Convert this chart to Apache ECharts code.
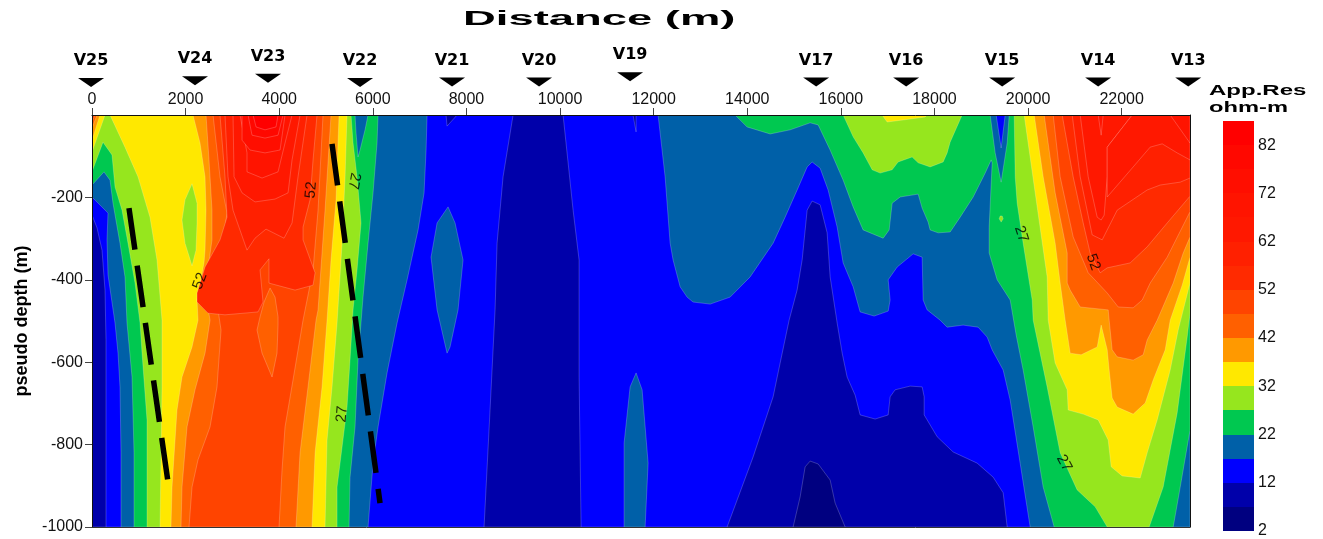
<!DOCTYPE html>
<html>
<head>
<meta charset="utf-8">
<style>html,body{margin:0;padding:0;background:#fff}#c{width:1323px;height:539px}</style>
<script src="https://cdn.jsdelivr.net/npm/echarts@6/dist/echarts.min.js"></script>
</head>
<body>
<div id="c"></div>
<script>
// ---- Axis values
const distTicks = [0,2000,4000,6000,8000,10000,12000,14000,16000,18000,20000,22000];
const distMax = 23460;
const legendLevels = [2,7,12,17,22,27,32,37,42,47,52,57,62,67,72,77,82];
const legendColors = ['#000080','#0000AA','#0000FF','#0060A8','#00C850','#96E61E','#FFE800','#FF9900','#FF6000','#FF4400','#FF2A00','#FF2000','#FF1800','#FF1400','#FF0E00','#FF0800','#FF0000'];

// ---- Stations: name, distance (m), marker height above surface
const stationNames = ['V25','V24','V23','V22','V21','V20','V19','V17','V16','V15','V14','V13'];
const stationDist  = [-20,2201,3761,5727,7693,9552,11497,15472,17395,19447,21498,23422];
const stationElev  = [79,83,89,79,80,80,93,80,80,80,80,80];

// ---- Fault traces [distance, depth]
const fault1 = [[790,-226],[1624,-891]];
const fault2 = [[5128,-70],[6154,-942]];

// ---- Contour labels [distance, depth, value, angle]
const contourLabels = [[4680,-182,52,85],[5599,-160,27,-100],[2308,-403,52,70],[5343,-726,27,85],[19853,-289,27,-72],[21391,-357,52,-70],[20772,-845,27,-62]];

// ---- Contour polygons, [distance, depth]
const whole = [[0,0],[23460,0],[23460,-1000],[0,-1000]];
const low7Left = [[0,-243],[107,-274],[214,-328],[278,-425],[299,-546],[299,-1000],[0,-1000]];
const low7Center = [[8997,0],[8783,-150],[8655,-311],[8612,-473],[8505,-716],[8377,-1000],[10450,-1000],[10407,-636],[10407,-352],[10279,-231],[10065,0]];
const low7Spot = [[7565,0],[7800,0],[7586,-27]];
const low7Sliver = [[11560,0],[11625,0],[11625,-41]];
const low7Right = [[13570,-1000],[14126,-830],[14553,-684],[14703,-602],[14895,-498],[15066,-425],[15173,-352],[15280,-231],[15386,-209],[15557,-218],[15707,-286],[15771,-393],[15921,-505],[16028,-578],[16134,-636],[16305,-680],[16412,-728],[16733,-738],[17011,-728],[17053,-684],[17160,-667],[17481,-658],[17737,-660],[17780,-684],[17780,-728],[18058,-781],[18400,-818],[18912,-845],[19254,-879],[19468,-917],[19554,-1000]];
const low2Deep = [[14980,-1000],[15130,-927],[15237,-854],[15344,-840],[15515,-847],[15771,-886],[15878,-942],[16092,-1000]];

const ge17Left = [[0,0],[7159,0],[7138,-85],[7095,-189],[6967,-279],[6732,-400],[6518,-505],[6304,-626],[6112,-757],[6005,-845],[5898,-1000],[620,-1000],[620,-820],[598,-660],[556,-578],[492,-505],[342,-388],[321,-303],[342,-238],[0,-199]];
const ge22Left = [[0,0],[6112,0],[6090,-68],[6005,-189],[5898,-311],[5791,-442],[5684,-595],[5620,-757],[5513,-879],[5492,-1000],[898,-1000],[898,-820],[855,-636],[748,-505],[705,-393],[598,-311],[449,-214],[385,-158],[256,-138],[0,-170]];
const notchLeft = [[5620,0],[5642,-44],[5684,-102],[5727,-85],[5834,-36],[5898,0]];
const ge27Left = [[0,0],[5535,0],[5578,-68],[5663,-150],[5749,-262],[5663,-376],[5578,-473],[5513,-595],[5449,-709],[5343,-806],[5236,-903],[5236,-1000],[1175,-1000],[1175,-740],[1069,-578],[1026,-505],[919,-408],[769,-311],[641,-231],[492,-175],[427,-97],[235,-66],[0,-138]];
const ge32Corner = [[0,0],[278,0],[0,-90]];
const ge32Left = [[385,0],[5449,0],[5407,-150],[5343,-311],[5236,-505],[5129,-660],[5022,-789],[4979,-1000],[1453,-1000],[1496,-660],[1496,-498],[1389,-352],[1239,-248],[983,-150],[705,-78]];
const lens27 = [[2137,-167],[2244,-214],[2244,-262],[2222,-328],[2137,-366],[1987,-311],[1923,-255],[1987,-206]];
const ge37Corner = [[0,0],[171,0],[0,-61]];
const ge42Corner = [[0,0],[107,0],[0,-32]];
const ge47Corner = [[0,0],[64,0],[0,-17]];
const ge37Left = [[2158,0],[5278,0],[5214,-206],[5107,-352],[5022,-498],[4915,-660],[4766,-820],[4701,-1000],[1688,-1000],[1710,-903],[1816,-716],[1923,-636],[2137,-563],[2265,-498],[2244,-449],[2393,-359],[2415,-328],[2436,-231],[2415,-150],[2308,-68]];
const ge42Left = [[2436,0],[5107,0],[4979,-231],[4830,-473],[4787,-498],[4616,-660],[4445,-820],[4359,-1000],[1902,-1000],[1923,-903],[2030,-757],[2201,-667],[2415,-578],[2522,-498],[2415,-425],[2564,-303],[2564,-231],[2500,-109]];
const ge47Left = [[2586,0],[4936,0],[4830,-231],[4723,-376],[4509,-498],[4295,-643],[4124,-757],[4060,-862],[3996,-1000],[2073,-1000],[2137,-903],[2265,-837],[2522,-757],[2671,-660],[2757,-522],[2629,-425],[2842,-272],[2885,-238],[2735,-150]];
const patch42 = [[3804,-420],[3911,-442],[3975,-490],[3975,-510],[3953,-578],[3847,-636],[3633,-578],[3526,-522],[3590,-490],[3676,-454]];
const ge52Left = [[2735,0],[4808,0],[4723,-109],[4659,-206],[4509,-272],[4509,-303],[4766,-383],[4723,-413],[4338,-425],[3782,-408],[3782,-349],[3590,-376],[3654,-454],[3547,-478],[2842,-485],[2479,-481],[2244,-454],[2244,-432],[2415,-369],[2735,-303],[2885,-248],[2842,-150]];
const ge57Left = [[2842,0],[4595,0],[4402,-150],[4274,-262],[4103,-299],[3718,-277],[3483,-299],[3312,-328],[3013,-231],[2906,-150]];
const ge62Left = [[3013,0],[4445,0],[4274,-109],[4189,-189],[3911,-204],[3483,-211],[3206,-189],[3035,-150]];
const ge67Left = [[3163,0],[4274,0],[4124,-68],[3975,-138],[3633,-153],[3312,-138],[3312,-92]];
const ge72Left = [[3206,0],[4124,0],[4018,-85],[3697,-92],[3376,-85],[3206,-61]];
const ge77Left = [[3334,0],[4082,0],[3975,-49],[3697,-56],[3419,-49]];
const ge82Left = [[3441,0],[3975,0],[3932,-29],[3697,-36],[3505,-29]];

const islandA = [[7608,-223],[7757,-262],[7928,-352],[7821,-473],[7650,-563],[7586,-578],[7373,-473],[7244,-345],[7373,-262]];
const islandB = [[11625,-626],[11754,-667],[11882,-845],[11818,-1000],[11369,-1000],[11369,-796],[11497,-660]];

const ge17Right = [[12095,0],[12245,-150],[12352,-311],[12416,-352],[12566,-417],[12715,-442],[12843,-454],[13207,-459],[13634,-442],[14061,-393],[14553,-311],[14809,-248],[15066,-182],[15280,-126],[15386,-114],[15557,-129],[15728,-182],[15921,-272],[16049,-359],[16263,-417],[16412,-478],[16711,-488],[17011,-476],[17053,-449],[17011,-400],[17203,-369],[17545,-337],[17737,-345],[17758,-449],[17844,-473],[18122,-498],[18271,-515],[18613,-510],[18934,-515],[19126,-539],[19233,-570],[19468,-619],[19618,-692],[19831,-845],[20045,-1000],[23460,-1000],[23460,0]];
const ge22Right = [[13741,0],[13997,-29],[14489,-46],[14916,-36],[15344,-19],[15515,-24],[15771,-85],[16049,-158],[16263,-223],[16476,-279],[16904,-299],[17032,-279],[17096,-214],[17267,-199],[17652,-192],[17737,-226],[17865,-260],[17908,-279],[18079,-286],[18335,-284],[18549,-248],[18827,-199],[19083,-141],[19212,-109],[19233,-116],[19169,-272],[19169,-335],[19340,-400],[19618,-449],[19746,-534],[19895,-619],[20109,-757],[20323,-903],[20558,-1000],[23101,-1000],[23251,-903],[23460,-765],[23460,0]];
const notchRight = [[19190,0],[19297,-92],[19425,-163],[19554,-68],[19597,0]];
const blueRight = [[19318,0],[19425,-80],[19511,0]];
const ge27Top = [[16049,0],[16263,-53],[16476,-92],[16669,-133],[16840,-141],[17096,-133],[17224,-114],[17523,-102],[17652,-116],[17908,-126],[18186,-114],[18271,-92],[18335,-66],[18592,0]];
const ge32Top = [[16882,0],[16989,-17],[17331,-12],[17801,-5],[17844,0]];
const dot27 = [[19404,-245],[19447,-245],[19468,-252],[19425,-260],[19383,-252]];
const ge27Right = [[19703,0],[19725,-150],[19767,-214],[19895,-311],[20088,-449],[20109,-498],[20408,-660],[20686,-820],[21049,-910],[21434,-951],[21691,-1000],[22588,-1000],[22887,-903],[23186,-723],[23400,-539],[23460,-481],[23460,0]];
const ge32Right = [[19917,0],[20152,-189],[20408,-393],[20430,-498],[20579,-602],[20836,-667],[20857,-716],[21178,-726],[21498,-740],[21712,-789],[21776,-854],[22011,-876],[22396,-881],[22545,-820],[22759,-740],[23037,-619],[23208,-522],[23460,-408],[23460,0]];
const ge37Right = [[20131,0],[20323,-150],[20579,-311],[20686,-408],[20793,-498],[20900,-578],[21135,-582],[21477,-563],[21562,-510],[21691,-570],[21733,-619],[21797,-687],[21904,-709],[22246,-726],[22503,-699],[22674,-643],[22930,-570],[23037,-498],[23293,-413],[23460,-345],[23460,0]];
const ge42Right = [[20344,0],[20579,-189],[20836,-335],[20836,-408],[20900,-425],[21114,-466],[21712,-473],[21733,-498],[21797,-570],[21904,-587],[22246,-595],[22460,-582],[22545,-546],[22759,-498],[23101,-408],[23315,-335],[23460,-296],[23460,0]];
const ge47Right = [[20537,0],[20686,-150],[20964,-296],[21285,-383],[21691,-432],[21926,-466],[22246,-468],[22439,-449],[22609,-408],[22973,-345],[23460,-235],[23460,0]];
const ge52Right = [[20729,0],[20964,-150],[21178,-262],[21327,-335],[21541,-383],[21691,-371],[22182,-359],[22545,-320],[22973,-262],[23460,-197],[23460,0]];
const ge57Right = [[20943,0],[21114,-150],[21370,-291],[21584,-303],[21904,-231],[22545,-182],[22823,-170],[23251,-163],[23460,-153],[23460,0]];
const ge62RightV = [[21114,0],[21285,-150],[21477,-248],[21562,-255],[21626,-243],[21691,-150],[21691,-78],[22225,0]];
const ge62RightFan = [[21691,-199],[22246,-126],[22609,-78],[22866,-70],[23186,-92],[23460,-109],[23460,0],[22225,0],[21691,-78]];
const ge67Sliver = [[21498,0],[21562,-49],[21605,0]];
const ge67Corner = [[23037,0],[23460,-68],[23460,0]];

// Paint order: [lower band level, polygon]
const regions = [
  [12,whole],[7,low7Left],[7,low7Center],[7,low7Spot],[7,low7Sliver],[7,low7Right],[2,low2Deep],
  [17,ge17Left],[22,ge22Left],[17,notchLeft],[27,ge27Left],[32,ge32Corner],[32,ge32Left],[27,lens27],
  [37,ge37Corner],[42,ge42Corner],[47,ge47Corner],[37,ge37Left],[42,ge42Left],[47,ge47Left],[42,patch42],
  [52,ge52Left],[57,ge57Left],[62,ge62Left],[67,ge67Left],[72,ge72Left],[77,ge77Left],[82,ge82Left],
  [17,islandA],[17,islandB],
  [17,ge17Right],[22,ge22Right],[17,notchRight],[12,blueRight],[27,ge27Top],[32,ge32Top],[27,dot27],
  [27,ge27Right],[32,ge32Right],[37,ge37Right],[42,ge42Right],[47,ge47Right],[52,ge52Right],[57,ge57Right],
  [62,ge62RightV],[62,ge62RightFan],[67,ge67Sliver],[67,ge67Corner]
];

const colorOf = lv => legendColors[legendLevels.indexOf(lv)];
const font = 'Liberation Sans, Arial, sans-serif';
const plain = v => String(v);

const chart = echarts.init(document.getElementById('c'), null, {renderer:'canvas'});
chart.setOption({
  animation:false,
  backgroundColor:'#fff',
  grid:[
    {left:92, top:115, width:1098, height:412},
    {left:1223, top:121, width:31, height:413}
  ],
  xAxis:[
    {gridIndex:0, type:'value', position:'top', min:0, max:distMax, z:10,
     splitLine:{show:false},
     axisLine:{show:true, onZero:false, lineStyle:{color:'#111', width:1}},
     axisTick:{show:true, length:7, customValues:distTicks, lineStyle:{color:'#444'}},
     axisLabel:{show:true, margin:7, customValues:distTicks, formatter:plain, fontFamily:font, fontSize:16, color:'#111'}},
    {gridIndex:0, type:'value', position:'bottom', min:0, max:distMax, z:10,
     splitLine:{show:false}, axisTick:{show:false}, axisLabel:{show:false},
     axisLine:{show:true, onZero:false, lineStyle:{color:'#333', width:1}}},
    {gridIndex:1, type:'value', min:0, max:1, show:false}
  ],
  yAxis:[
    {gridIndex:0, type:'value', min:-1000, max:0, interval:200, position:'left', z:10,
     splitLine:{show:false},
     name:'pseudo depth (m)', nameLocation:'middle', nameRotate:90, nameGap:55,
     nameTextStyle:{fontFamily:font, fontWeight:'bold', fontSize:18, color:'#000'},
     axisLine:{show:true, onZero:false, lineStyle:{color:'#111', width:1}},
     axisTick:{show:true, length:7, lineStyle:{color:'#444'}},
     axisLabel:{margin:9, showMaxLabel:false, formatter:plain, fontFamily:font, fontSize:16, color:'#111'}},
    {gridIndex:0, type:'value', min:-1000, max:0, interval:200, position:'right', z:10,
     splitLine:{show:false}, axisTick:{show:false}, axisLabel:{show:false},
     axisLine:{show:true, onZero:false, lineStyle:{color:'#111', width:1}}},
    {gridIndex:1, type:'value', min:2, max:87, interval:10, position:'right',
     splitLine:{show:false}, axisTick:{show:false}, axisLine:{show:false},
     axisLabel:{margin:4, showMaxLabel:false, fontFamily:font, fontSize:16, color:'#111'}}
  ],
  graphic:[
    {type:'text', x:463, y:19, scaleX:2.27, style:{text:'Distance (m)', font:'bold 20px '+font, fill:'#000', verticalAlign:'middle'}},
    {type:'text', x:1209, y:91, scaleX:1.6, style:{text:'App.Res', font:'bold 15px '+font, fill:'#000', verticalAlign:'middle'}},
    {type:'text', x:1209, y:108, scaleX:1.58, style:{text:'ohm-m', font:'bold 15px '+font, fill:'#000', verticalAlign:'middle'}}
  ],
  series:[
    {type:'custom', xAxisIndex:0, yAxisIndex:0, clip:true, silent:true, z:2,
     data:regions.map((r,i)=>[0,0,i]),
     renderItem:(params,api)=>{
       const r = regions[api.value(2)];
       return {type:'polygon',
         shape:{points:r[1].map(p=>api.coord(p))},
         style:{fill:colorOf(r[0]), stroke:'rgba(255,255,255,0.35)', lineWidth:0.6}};
     }},
    {type:'line', xAxisIndex:0, yAxisIndex:0, data:fault1, showSymbol:false, symbol:'none', silent:true, z:5,
     lineStyle:{color:'#000', width:5.5, type:[42,16], cap:'butt'}},
    {type:'line', xAxisIndex:0, yAxisIndex:0, data:fault2, showSymbol:false, symbol:'none', silent:true, z:5,
     lineStyle:{color:'#000', width:5.5, type:[42,16], cap:'butt'}},
    {type:'scatter', xAxisIndex:0, yAxisIndex:0, symbolSize:0, silent:true, z:6,
     data:contourLabels.map(c=>({value:[c[0],c[1]],
       label:{show:true, position:'inside', rotate:c[3], formatter:String(c[2]), fontFamily:font, fontSize:15, color:'#000'}}))},
    {type:'scatter', xAxisIndex:0, yAxisIndex:0, clip:false, silent:true, z:6,
     symbol:'triangle', symbolRotate:180, symbolSize:[26,9], itemStyle:{color:'#000', opacity:1},
     data:stationNames.map((n,i)=>({value:[stationDist[i],stationElev[i]], name:n})),
     label:{show:true, position:'top', distance:9, formatter:'{b}', fontFamily:'DejaVu Sans', fontWeight:'bold', fontSize:16, color:'#000', opacity:1}},
    {type:'custom', xAxisIndex:2, yAxisIndex:2, silent:true, clip:false, z:2,
     data:legendLevels.map((lv,i)=>[0,lv,i]),
     renderItem:(params,api)=>{
       const lv = api.value(1);
       const a = api.coord([0,lv]), b = api.coord([1,lv+5]);
       const top = Math.round(b[1]), bottom = Math.round(a[1]);
       return {type:'rect', shape:{x:a[0], y:top, width:b[0]-a[0], height:bottom-top},
         style:{fill:legendColors[api.value(2)]}};
     }}
  ]
});
</script>
</body>
</html>
